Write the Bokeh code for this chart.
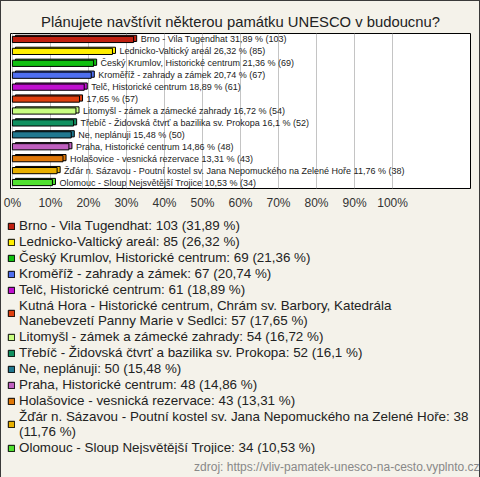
from bokeh.plotting import figure
from bokeh.layouts import column
from bokeh.models import (Range1d, FactorRange, FixedTicker, PrintfTickFormatter,
                          Legend, LegendItem, Title, ColumnDataSource)
from bokeh.embed import file_html
from bokeh.resources import INLINE
from bokeh.core.properties import value
from bokeh.transform import dodge

title_text = "Plánujete navštívit některou památku UNESCO v budoucnu?"
source_text = "zdroj: https://vliv-pamatek-unesco-na-cesto.vyplnto.cz"

names = [
    "Brno - Vila Tugendhat",
    "Lednicko-Valtický areál",
    "Český Krumlov, Historické centrum",
    "Kroměříž - zahrady a zámek",
    "Telč, Historické centrum",
    "Kutná Hora - Historické centrum, Chrám sv. Barbory, Katedrála\nNanebevzetí Panny Marie v Sedlci",
    "Litomyšl - zámek a zámecké zahrady",
    "Třebíč - Židovská čtvrť a bazilika sv. Prokopa",
    "Ne, neplánuji",
    "Praha, Historické centrum",
    "Holašovice - vesnická rezervace",
    "Žďár n. Sázavou - Poutní kostel sv. Jana Nepomuckého na Zelené Hoře",
    "Olomouc - Sloup Nejsvětější Trojice",
]
show_name_in_bar = [True, True, True, True, True, False, True, True, True, True, True, True, True]
wrap_before_pct = [False, False, False, False, False, False, False, False, False, False, False, True, False]
counts = [103, 85, 69, 67, 61, 57, 54, 52, 50, 48, 43, 38, 34]
pcts = [31.89, 26.32, 21.36, 20.74, 18.89, 17.65, 16.72, 16.1, 15.48, 14.86, 13.31, 11.76, 10.53]
colors = ["#c02010", "#ffee00", "#10c010", "#4f6ff0", "#c010d0", "#e04010", "#c8ff80",
          "#109060", "#207890", "#c060c0", "#e07808", "#e8b000", "#50e030"]
ticks = [0, 10, 20, 30, 40, 50, 60, 70, 80, 90, 100]
x_max = 120.5


def fmt(v):
    s = ("%.2f" % v).rstrip("0").rstrip(".")
    return s.replace(".", ",")


keys = [n.split("\n")[0] for n in names]
bar_labels = []
legend_labels = []
for n, show, wrap, c, v in zip(names, show_name_in_bar, wrap_before_pct, counts, pcts):
    flat = n.replace("\n", " ")
    bar_labels.append((flat + " " if show else "") + f"{fmt(v)} % ({c})")
    legend_labels.append(f"{n}: {c}" + ("\n" if wrap else " ") + f"({fmt(v)} %)")

src = ColumnDataSource(dict(key=keys, pct=pcts, pct_back=[v + 0.8 for v in pcts],
                            color=colors, lab=bar_labels))

FONT = "Liberation Sans"
BG = "#f4f2ea"

# ---------------- chart ----------------
p = figure(frame_width=460, frame_height=155, output_backend="svg", toolbar_location=None,
           x_range=Range1d(-0.5, x_max),
           y_range=FactorRange(factors=list(reversed(keys)), range_padding=0),
           min_border_left=9, min_border_right=9, min_border_top=32, min_border_bottom=22,
           background_fill_color="white", border_fill_color=BG)

p.title.text = title_text
p.title.align = "center"
p.title.text_font = FONT
p.title.text_font_size = "14.8px"
p.title.text_font_style = "normal"
p.title.text_color = "#222222"
p.title.standoff = 7

p.outline_line_color = "#000000"
p.outline_line_width = 1

p.yaxis.visible = False
p.ygrid.grid_line_color = None
p.xgrid.grid_line_color = "#c4c4c4"
p.xgrid.ticker = FixedTicker(ticks=ticks)

xa = p.xaxis[0]
xa.ticker = FixedTicker(ticks=ticks)
xa.formatter = PrintfTickFormatter(format="%d%%")
xa.axis_line_color = None
xa.major_tick_line_color = None
xa.minor_tick_line_color = None
xa.major_tick_out = 0
xa.major_tick_in = 0
xa.minor_tick_out = 0
xa.minor_tick_in = 0
xa.major_label_text_font = FONT
xa.major_label_text_font_size = "12px"
xa.major_label_text_color = "#333333"
xa.major_label_standoff = 7

# 3D-ish depth of the bars
p.hbar(y=dodge("key", 0.09, range=p.y_range), left=0.8, right="pct_back", height=0.52,
       fill_color="color", line_color="#000000", line_width=1, source=src)
p.hbar(y="key", left=0, right="pct", height=0.52,
       fill_color="color", line_color="#000000", line_width=1, source=src)

p.text(x="pct", y="key", text="lab", x_offset=7, text_baseline="middle",
       text_font=value(FONT), text_font_size="9px", text_color="#222222", source=src)

# ---------------- legend area ----------------
q = figure(frame_width=478, frame_height=242, output_backend="svg", toolbar_location=None,
           x_range=Range1d(0, 1), y_range=FactorRange(factors=list(reversed(keys))),
           min_border_left=0, min_border_top=0, min_border_right=0, min_border_bottom=24,
           background_fill_color=BG, border_fill_color=BG)
q.outline_line_color = None
q.axis.visible = False
q.grid.grid_line_color = None
proxy = q.hbar(y="key", left=0, right="pct", height=0.5, fill_color="color",
               line_color="#000000", line_width=1, source=src, visible=False)

items = [LegendItem(label=lbl, renderers=[proxy], index=i) for i, lbl in enumerate(legend_labels)]
legend = Legend(items=items, orientation="vertical", location="top_left",
                label_text_font=FONT, label_text_font_size="13.4px", label_text_color="#222222",
                label_text_line_height=1.0,
                glyph_width=8, glyph_height=8, label_standoff=4, spacing=1,
                padding=0, margin=6, label_height=15,
                background_fill_alpha=0, border_line_color=None)
q.add_layout(legend, "center")

q.add_layout(Title(text=source_text, align="right", standoff=6, offset=9, text_font=FONT,
                   text_font_size="12px", text_font_style="normal", text_color="#888888"),
             "below")

layout = column(p, q, spacing=0, styles={"border": "1px solid #3a3a3a", "background": BG})

open("out.html", "w").write(file_html(layout, INLINE))
